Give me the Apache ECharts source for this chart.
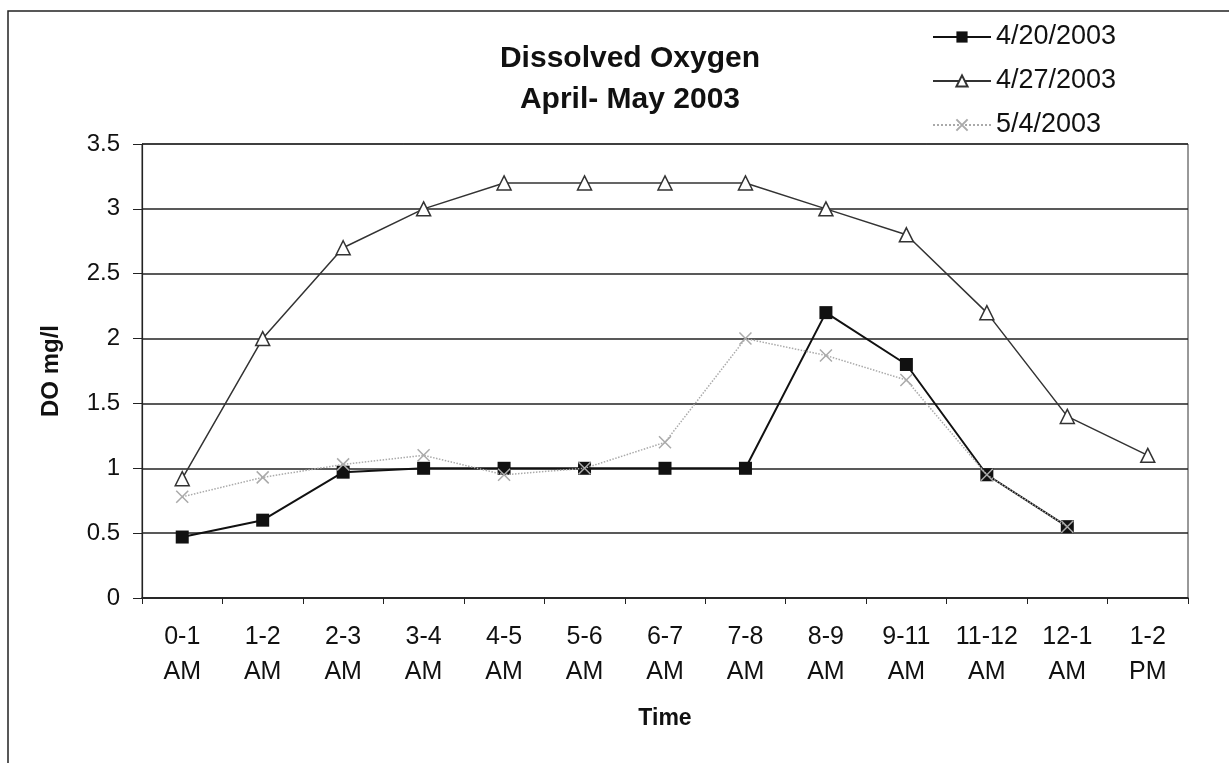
<!DOCTYPE html>
<html>
<head>
<meta charset="utf-8">
<script src="https://cdn.jsdelivr.net/npm/echarts@6/dist/echarts.min.js"></script>
<style>
  html, body { margin: 0; padding: 0; background: #fff; }
  #chart { width: 1229px; height: 763px; }
</style>
</head>
<body>
<div id="chart"></div>
<script>
// time slots (x axis)
const time_labels = ["0-1\nAM", "1-2\nAM", "2-3\nAM", "3-4\nAM", "4-5\nAM", "5-6\nAM", "6-7\nAM",
  "7-8\nAM", "8-9\nAM", "9-11\nAM", "11-12\nAM", "12-1\nAM", "1-2\nPM"];

// DO mg/l per date
const do_0420 = [0.47, 0.6, 0.97, 1.0, 1.0, 1.0, 1.0, 1.0, 2.2, 1.8, 0.95, 0.55, null];
const do_0427 = [0.92, 2.0, 2.7, 3.0, 3.2, 3.2, 3.2, 3.2, 3.0, 2.8, 2.2, 1.4, 1.1];
const do_0504 = [0.78, 0.93, 1.03, 1.1, 0.95, 1.0, 1.2, 2.0, 1.87, 1.68, 0.95, 0.55, null];

const font = "'Liberation Sans', Arial, sans-serif";

const myChart = echarts.init(document.getElementById("chart"));

let option = {
  animation: false,
  backgroundColor: "#fff",
  textStyle: { fontFamily: font, color: "#111" },
  // outer frame of the scanned chart
  graphic: [{
    type: "rect",
    shape: { x: 8, y: 11, width: 1300, height: 800 },
    style: { fill: "none", stroke: "#222", lineWidth: 1.5 },
    silent: true
  }],
  title: {
    text: "Dissolved Oxygen\nApril- May 2003",
    left: 625,
    textAlign: "center",
    top: 33,
    textStyle: { fontFamily: font, fontSize: 30, fontWeight: "bold", color: "#111", lineHeight: 41 }
  },
  legend: {
    orient: "vertical",
    left: 932,
    top: 22,
    padding: 0,
    itemWidth: 58,
    itemHeight: 14,
    itemGap: 14,
    textStyle: { fontFamily: font, fontSize: 27, color: "#111", lineHeight: 30 },
    data: ["4/20/2003", "4/27/2003", "5/4/2003"]
  },
  grid: {
    left: 142,
    right: 41,
    top: 144,
    bottom: 165,
    show: true,
    borderColor: "#333",
    borderWidth: 1
  },
  xAxis: {
    type: "category",
    data: time_labels,
    boundaryGap: true,
    name: "Time",
    nameLocation: "middle",
    nameGap: 109,
    nameTextStyle: { fontFamily: font, fontSize: 23, fontWeight: "bold", color: "#111" },
    axisLine: { show: true, lineStyle: { color: "#222", width: 1.5 } },
    axisTick: { show: true, length: 6, lineStyle: { color: "#222" } },
    axisLabel: {
      interval: 0,
      margin: 22,
      fontFamily: font,
      fontSize: 25,
      lineHeight: 35,
      color: "#111"
    },
    splitLine: { show: false }
  },
  yAxis: {
    type: "value",
    min: 0,
    max: 3.5,
    interval: 0.5,
    name: "DO mg/l",
    nameLocation: "middle",
    nameGap: 79,
    nameRotate: 90,
    nameTextStyle: { fontFamily: font, fontSize: 24, fontWeight: "bold", color: "#111" },
    axisLine: { show: true, lineStyle: { color: "#222", width: 1.2 } },
    axisTick: { show: true, length: 9, lineStyle: { color: "#222" } },
    axisLabel: { margin: 22, fontFamily: font, fontSize: 24, color: "#111" },
    splitLine: { show: true, lineStyle: { color: "#222", width: 1.5 } }
  },
  series: [
    {
      name: "4/20/2003",
      type: "line",
      data: do_0420,
      symbol: "rect",
      symbolSize: 13,
      itemStyle: { color: "#111" },
      lineStyle: { color: "#111", width: 2 },
      z: 3
    },
    {
      name: "4/27/2003",
      type: "line",
      data: do_0427,
      symbol: "triangle",
      symbolSize: 14,
      itemStyle: { color: "#fff", borderColor: "#333", borderWidth: 1.5 },
      lineStyle: { color: "#333", width: 1.5 },
      z: 2
    },
    {
      name: "5/4/2003",
      type: "line",
      data: do_0504,
      symbol: "path://M0,0L10,10M10,0L0,10",
      symbolSize: 12,
      itemStyle: { color: "rgba(0,0,0,0)", borderColor: "#aaa", borderWidth: 1.5 },
      lineStyle: { color: "#aaa", width: 1.5, type: "dotted" },
      z: 4
    }
  ]
};
myChart.setOption(option);
</script>
</body>
</html>
